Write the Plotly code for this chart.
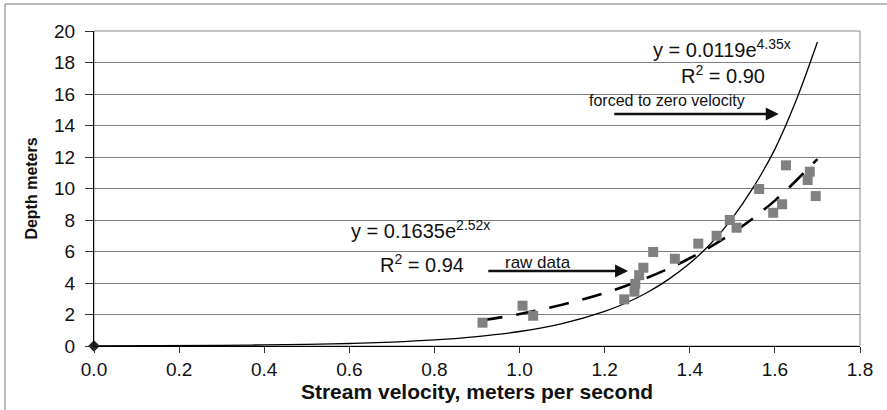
import plotly.graph_objects as go

# Raw data points (stream velocity m/s, depth m)
velocity = [0.913, 1.007, 1.032, 1.246, 1.270, 1.272, 1.281, 1.291, 1.314, 1.365,
            1.420, 1.463, 1.494, 1.510, 1.563, 1.596, 1.617, 1.626, 1.677, 1.682, 1.696]
depth = [1.48, 2.56, 1.92, 2.96, 3.45, 3.95, 4.50, 4.97, 5.97, 5.54,
         6.50, 7.00, 8.00, 7.51, 9.97, 8.46, 9.00, 11.47, 10.54, 11.07, 9.52]

# Trendline through raw data
raw_fit_x = [0.913, 1.0, 1.1, 1.2, 1.3, 1.4, 1.5, 1.6, 1.7]
raw_fit_y = [1.63, 2.03, 2.62, 3.36, 4.33, 5.57, 7.17, 9.23, 11.87]

# Trendline forced through zero velocity
forced_x = [0.0, 0.3, 0.4, 0.5, 0.6, 0.7, 0.8, 0.9, 1.0, 1.1, 1.2, 1.25, 1.3, 1.35,
            1.4, 1.45, 1.5, 1.55, 1.6, 1.65, 1.7]
forced_y = [0.0, 0.04, 0.07, 0.10, 0.16, 0.25, 0.39, 0.60, 0.92, 1.42, 2.20, 2.73, 3.40, 4.23,
            5.25, 6.52, 8.12, 10.1, 12.5, 15.6, 19.3]

origin_x = [0.0]
origin_y = [0.0]

x_ticks = [0.0, 0.2, 0.4, 0.6, 0.8, 1.0, 1.2, 1.4, 1.6, 1.8]
y_ticks = [0, 2, 4, 6, 8, 10, 12, 14, 16, 18, 20]

FONT = "Liberation Sans, Arial, sans-serif"

fig = go.Figure()
fig.add_trace(go.Scatter(x=forced_x, y=forced_y, mode="lines",
                         line=dict(color="black", width=1.3, shape="spline"),
                         showlegend=False, hoverinfo="skip"))
fig.add_trace(go.Scatter(x=raw_fit_x, y=raw_fit_y, mode="lines",
                         line=dict(color="black", width=2.6, dash="20px,14px", shape="spline"),
                         showlegend=False, hoverinfo="skip"))
fig.add_trace(go.Scatter(x=velocity, y=depth, mode="markers",
                         marker=dict(symbol="square", size=10, color="#808080",
                                     line=dict(width=0)),
                         showlegend=False))
fig.add_trace(go.Scatter(x=origin_x, y=origin_y, mode="markers",
                         marker=dict(symbol="diamond", size=9, color="#222222"),
                         showlegend=False, cliponaxis=False))

ann_font = dict(family=FONT, size=20, color="#111111")
small_font = dict(family=FONT, size=16, color="#111111")
annotations = [
    dict(x=1.476, y=18.9, text="y = 0.0119e<sup>4.35x</sup>"),
    dict(x=1.478, y=17.27, text="R<sup>2</sup> = 0.90"),
    dict(x=1.346, y=15.56, text="forced to zero velocity", font=small_font),
    dict(x=0.768, y=7.37, text="y = 0.1635e<sup>2.52x</sup>"),
    dict(x=0.771, y=5.27, text="R<sup>2</sup> = 0.94"),
    dict(x=1.043, y=5.33, text="raw data", font=dict(family=FONT, size=17, color="#111111")),
]
for a in annotations:
    a.setdefault("font", ann_font)
    a.update(xref="x", yref="y", showarrow=False, xanchor="center", yanchor="middle")

arrows = [
    dict(x=1.255, y=4.76, ax=0.923, ay=4.76),
    dict(x=1.609, y=14.73, ax=1.219, ay=14.73),
]
for a in arrows:
    a.update(xref="x", yref="y", axref="x", ayref="y", text="", showarrow=True,
             arrowhead=2, arrowsize=1, arrowwidth=2.6, arrowcolor="#111111")

fig.update_layout(
    width=887, height=410,
    margin=dict(l=94, r=27, t=31, b=64),
    paper_bgcolor="white", plot_bgcolor="white",
    font=dict(family=FONT, color="#111111"),
    annotations=annotations + arrows,
    shapes=[
        dict(type="rect", xref="paper", yref="paper", x0=0, y0=0, x1=1, y1=1,
             line=dict(color="#8c8c8c", width=1), layer="below"),
        dict(type="rect", xref="paper", yref="paper", x0=-0.1162, y0=-0.4, x1=1.2, y1=1.0857,
             line=dict(color="#777777", width=1), layer="below"),
    ],
)
fig.update_xaxes(
    range=[0, 1.8], tickvals=x_ticks, ticktext=[f"{v:.1f}" for v in x_ticks],
    showgrid=False, zeroline=False, showline=True, linecolor="black", linewidth=1.3,
    ticks="outside", ticklen=6, tickcolor="#333333",
    tickfont=dict(family=FONT, size=19, color="#111111"),
    title=dict(text="<b>Stream velocity, meters per second</b>",
               font=dict(family=FONT, size=21, color="#111111"), standoff=0),
)
fig.update_yaxes(
    range=[0, 20], tickvals=y_ticks,
    showgrid=True, gridcolor="#808080", gridwidth=1, zeroline=False,
    showline=True, linecolor="black", linewidth=1.3,
    ticks="outside", ticklen=8, tickcolor="#333333", ticklabelstandoff=6,
    tickfont=dict(family=FONT, size=19, color="#111111"),
    title=dict(text="<b>Depth meters</b>",
               font=dict(family=FONT, size=16, color="#111111"), standoff=12),
)

fig.write_html("out.html")
